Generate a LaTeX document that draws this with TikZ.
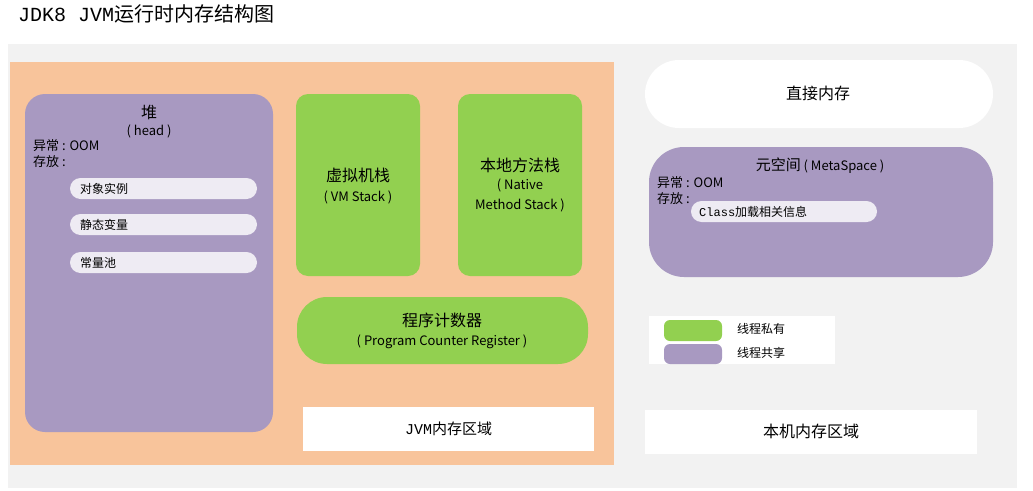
\documentclass[tikz,border=0pt]{standalone}
\usepackage{fontspec}
\setmainfont{Noto Sans CJK SC}
\newfontfamily\monofont{Liberation Mono}
\definecolor{bggray}{HTML}{F2F2F2}
\definecolor{jvmorange}{HTML}{F8C49B}
\definecolor{shared}{HTML}{A899C1}
\definecolor{private}{HTML}{92D050}
\definecolor{pillgray}{HTML}{EEEBF3}
\newcommand{\fs}[1]{\fontsize{#1}{#1}\selectfont}
\begin{document}
\begin{tikzpicture}[x=1pt,y=-1pt,
  area/.style={rectangle,draw=none,inner sep=0pt,minimum width=#1},
  box/.style 2 args={area=#1,minimum height=#2},
  label/.style={inner sep=0pt,font=\fs{13}},
  pilltext/.style={inner sep=0pt,font=\fs{12},anchor=west}]
\useasboundingbox (0,0) rectangle (1033,490);
% title
\node[anchor=west,inner sep=0pt,font=\fs{20}] (title) at (18,14) {{\monofont JDK8 JVM}运行时内存结构图};
% areas
\node[box={1009}{444},fill=bggray] (bg) at (512.5,266) {};
\node[box={604}{403},fill=jvmorange] (jvm) at (312,263.5) {};
% heap
\node[box={248}{338},fill=shared,rounded corners=20] (heap) at (149,263) {};
\node[inner sep=0pt,font=\fs{16}] (heapname) at (149,112) {堆};
\node[label] (heapen) at (149,131) {( head )};
\node[label,anchor=west] (heapoom) at (33,146) {异常 : OOM};
\node[label,anchor=west] (heapkeep) at (33,162) {存放 :};
\foreach \name/\txt/\y in {obj/对象实例/188.5,static/静态变量/224.5,pool/常量池/262.5}{
  \node[box={187}{21},fill=pillgray,rounded corners=10.5] (\name) at (163.5,\y) {};
  \node[pilltext] (\name txt) at (80,\y) {\txt};
}
% thread private
\node[box={124}{182},fill=private,rounded corners=12] (vmstack) at (358,185) {};
\node[inner sep=0pt,font=\fs{16}] (vmname) at (358,175) {虚拟机栈};
\node[label] (vmen) at (358,197) {( VM Stack )};
\node[box={124}{182},fill=private,rounded corners=12] (native) at (520,185) {};
\node[inner sep=0pt,font=\fs{16}] (nativename) at (520,165) {本地方法栈};
\node[label] (nativeen) at (520,185) {( Native};
\node[label] (nativeen2) at (520,205) {Method Stack )};
\node[box={291}{67},fill=private,rounded corners=30] (pc) at (442.5,330.5) {};
\node[inner sep=0pt,font=\fs{16}] (pcname) at (442,320) {程序计数器};
\node[label] (pcen) at (442,342) {( Program Counter Register )};
\node[box={291}{44},fill=white] (jvmlabel) at (448.5,429) {};
\node[inner sep=0pt,font=\fs{15}] (jvmtxt) at (448.5,429) {{\monofont JVM}内存区域};
% native memory
\node[box={348}{68},fill=white,rounded corners=34] (direct) at (819,94) {};
\node[inner sep=0pt,font=\fs{16}] (directtxt) at (818,93) {直接内存};
\node[box={344}{130},fill=shared,rounded corners=35] (meta) at (821,212) {};
\node[inner sep=0pt,font=\fs{15}] (metaname) at (820,166) {元空间{\fs{13} ( MetaSpace )}};
\node[label,anchor=west] (metaoom) at (657,183) {异常 : OOM};
\node[label,anchor=west] (metakeep) at (657,199) {存放 :};
\node[box={186}{21},fill=pillgray,rounded corners=10.5] (classinfo) at (784,211.5) {};
\node[pilltext] (classtxt) at (699,211.5) {{\monofont Class}加载相关信息};
% legend
\node[box={186}{48},fill=white] (legend) at (742,340) {};
\node[box={58}{21},fill=private,rounded corners=6] (privkey) at (693,330.5) {};
\node[box={58}{20},fill=shared,rounded corners=6] (sharekey) at (693,354) {};
\node[pilltext] (privtxt) at (737,329) {线程私有};
\node[pilltext] (sharetxt) at (737,353) {线程共享};
\node[box={332}{44},fill=white] (locallabel) at (811,432) {};
\node[inner sep=0pt,font=\fs{16}] (localtxt) at (811,431) {本机内存区域};
\end{tikzpicture}
\end{document}
